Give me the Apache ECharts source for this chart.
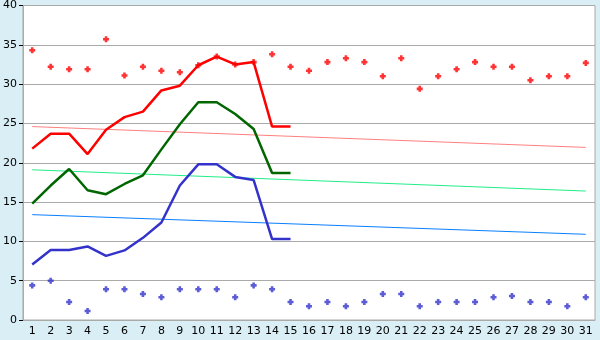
<!DOCTYPE html>
<html>
<head>
<meta charset="utf-8">
<script src="https://cdn.jsdelivr.net/npm/echarts@6/dist/echarts.min.js"></script>
<style>
  html, body { margin: 0; padding: 0; background: #d9eef5; }
  #main { width: 600px; height: 340px; }
</style>
</head>
<body>
<div id="main"></div>
<script>
var days = [];
for (var d = 1; d <= 31; d++) days.push(String(d));

// thick lines, days 1-15
var maxAvg = [21.8, 23.7, 23.7, 21.1, 24.2, 25.8, 26.5, 29.2, 29.8, 32.4, 33.5, 32.5, 32.8, 24.6, 24.6];
var meanAvg = [14.8, 17.1, 19.2, 16.5, 16.0, 17.3, 18.4, 21.7, 24.9, 27.7, 27.7, 26.2, 24.3, 18.7, 18.7];
var minAvg = [7.05, 8.9, 8.9, 9.35, 8.15, 8.85, 10.45, 12.4, 17.1, 19.8, 19.8, 18.2, 17.8, 10.3, 10.3];

// scatter points, all days
var maxPts = [34.3, 32.2, 31.9, 31.9, 35.7, 31.1, 32.2, 31.7, 31.5, 32.4, 33.5, 32.5, 32.8, 33.8, 32.2, 31.7,
  32.8, 33.3, 32.8, 31.0, 33.3, 29.4, 31.0, 31.9, 32.8, 32.2, 32.2, 30.5, 31.0, 31.0, 32.7];
var minPts = [4.4, 5.0, 2.3, 1.15, 3.9, 3.9, 3.3, 2.9, 3.9, 3.9, 3.9, 2.9, 4.4, 3.9, 2.3, 1.75,
  2.3, 1.75, 2.3, 3.3, 3.3, 1.75, 2.3, 2.3, 2.3, 2.9, 3.05, 2.3, 2.3, 1.75, 2.9];

// thin reference lines, start and end values
var maxRef = [24.6, 21.95];
var meanRef = [19.1, 16.4];
var minRef = [13.4, 10.9];

function refData(v) {
  return [[days[0], v[0]], [days[days.length - 1], v[1]]];
}

var plus = 'path://M2,0H5V2H7V5H5V7H2V5H0V2H2Z';

var chart = echarts.init(document.getElementById('main'));

var option = {
  backgroundColor: '#d9eef5',
  animation: false,
  textStyle: { fontFamily: 'DejaVu Sans' },
  grid: {
    left: 20, right: 5, top: 5, bottom: 20,
    show: true,
    backgroundColor: '#fff',
    borderColor: '#aaa',
    borderWidth: 1
  },
  xAxis: {
    type: 'category',
    data: days,
    axisLine: { lineStyle: { color: '#aaa' } },
    axisTick: { alignWithLabel: true, length: 4, lineStyle: { color: '#000' } },
    axisLabel: { color: '#000', fontSize: 11, margin: 6, interval: 0 },
    splitLine: { show: false }
  },
  yAxis: {
    type: 'value',
    min: 0, max: 40, interval: 5,
    axisLine: { show: true, lineStyle: { color: '#aaa' } },
    axisTick: { show: true, length: 4, lineStyle: { color: '#000' } },
    axisLabel: { color: '#000', fontSize: 11, margin: 6 },
    splitLine: { lineStyle: { color: '#aaa' } }
  },
  series: [
    { type: 'line', data: refData(maxRef), showSymbol: false, lineStyle: { color: '#ff8080', width: 1 } },
    { type: 'line', data: refData(meanRef), showSymbol: false, lineStyle: { color: '#22ee88', width: 1 } },
    { type: 'line', data: refData(minRef), showSymbol: false, lineStyle: { color: '#0a80ff', width: 1 } },
    { type: 'line', data: maxAvg, showSymbol: false, lineStyle: { color: '#ff0000', width: 2.5 } },
    { type: 'line', data: meanAvg, showSymbol: false, lineStyle: { color: '#006600', width: 2.5 } },
    { type: 'line', data: minAvg, showSymbol: false, lineStyle: { color: '#3333cc', width: 2.5 } },
    { type: 'scatter', data: maxPts, symbol: plus, symbolSize: 6, itemStyle: { color: '#ff0000' }, z: 5 },
    { type: 'scatter', data: minPts, symbol: plus, symbolSize: 6, itemStyle: { color: '#3333cc' }, z: 5 }
  ]
};

chart.setOption(option);
</script>
</body>
</html>
